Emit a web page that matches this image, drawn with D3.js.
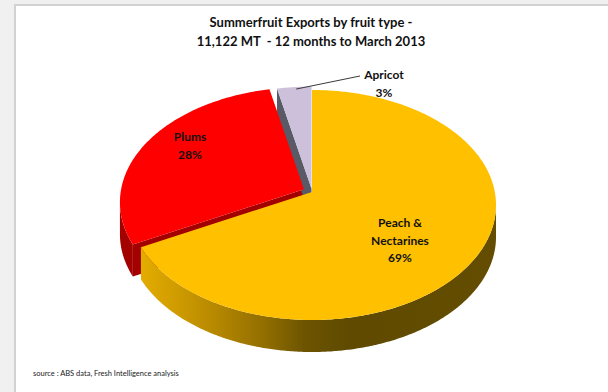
<!DOCTYPE html>
<html>
<head>
<meta charset="utf-8">
<script src="https://cdn.jsdelivr.net/npm/d3@7"></script>
<style>
  html, body { margin: 0; padding: 0; background: #f0f0f0; }
  svg { display: block; }
  text { font-family: Lato, "Open Sans", sans-serif; fill: #111; white-space: pre; }
</style>
</head>
<body>
<svg id="chart"></svg>
<script>
//Chart data
const categories = ["Peach & Nectarines", "Plums", "Apricot"];
const shares = [69, 28, 3];
const labelLines = [["Peach &", "Nectarines", "69%"], ["Plums", "28%"], ["Apricot", "3%"]];
const titleLines = ["Summerfruit Exports by fruit type -", "11,122 MT  - 12 months to March 2013"];
const sourceNote = "source : ABS data, Fresh Intelligence analysis";

//Size of the page
const width = 608;
const height = 392;

const svg = d3.select("#chart")
    .attr("width", width)
    .attr("height", height);

//White panel with a light border on top and left
svg.append("rect").attr("x", 0).attr("y", 0).attr("width", width).attr("height", height).attr("fill", "#f0f0f0");
svg.append("rect").attr("x", 14).attr("y", 4).attr("width", width).attr("height", height).attr("fill", "#d2d2d2");
svg.append("rect").attr("x", 16).attr("y", 6).attr("width", width).attr("height", height).attr("fill", "#ffffff");

//Title
svg.selectAll(".title")
    .data(titleLines)
    .enter()
    .append("text")
    .attr("class", "title")
    .attr("x", 311)
    .attr("y", (d, i) => 27 + i * 19)
    .attr("text-anchor", "middle")
    .attr("xml:space", "preserve")
    .style("font-size", "13px")
    .style("font-weight", "bold")
    .text(d => d);

//Source note
svg.append("text")
    .attr("x", 33)
    .attr("y", 376)
    .style("font-size", "7.5px")
    .style("fill", "#222")
    .text(sourceNote);

//Pie geometry (3D look)
const cx = 312, cy = 205, rx = 184, ry = 115;
const apexLift = 13;   //the centre point sits higher than the ellipse centre
const depth = 32;
const explode = [0, 0.05, 0.03];

const topColors = ["#ffc000", "#ff0000", "#ccc0da"];
const sideColors = ["url(#peachSide)", "#a30000", "#5a5a66"];

const pie = d3.pie().sort(null).value(d => d);
const arcs = pie(shares);

//offset for exploded slices
function offset(i) {
    const a = (arcs[i].startAngle + arcs[i].endAngle) / 2;
    return [rx * Math.sin(a) * explode[i], -ry * Math.cos(a) * explode[i]];
}

function rim(a, i, z) {
    const o = offset(i);
    return [cx + rx * Math.sin(a) + o[0], cy - ry * Math.cos(a) + o[1] + z];
}

function apex(i, z) {
    const o = offset(i);
    return [cx + o[0], cy - apexLift + o[1] + z];
}

function sample(a0, a1) {
    const n = Math.max(2, Math.ceil((a1 - a0) / 0.01));
    return d3.range(n + 1).map(k => a0 + (a1 - a0) * k / n);
}

const line = d3.line();

//Gradient for the peach side wall
const defs = svg.append("defs");
const grad = defs.append("linearGradient")
    .attr("id", "peachSide")
    .attr("gradientUnits", "userSpaceOnUse")
    .attr("x1", 128).attr("x2", 496).attr("y1", 0).attr("y2", 0);
[[0, "#eab200"], [0.12, "#d29e00"], [0.25, "#b38600"], [0.38, "#8f6c00"], [0.48, "#6c5400"], [0.6, "#5f4a00"], [1, "#644d00"]]
    .forEach(s => grad.append("stop").attr("offset", s[0]).attr("stop-color", s[1]));

const sides = svg.append("g");

//Radial faces that face the viewer
arcs.forEach((d, i) => {
    const normals = [[d.startAngle, d.startAngle - Math.PI / 2], [d.endAngle, d.endAngle + Math.PI / 2]];
    normals.forEach(n => {
        if (Math.cos(n[1]) < -0.05) {
            const pts = [apex(i, 0), rim(n[0], i, 0), rim(n[0], i, depth), apex(i, depth)];
            sides.append("path")
                .attr("d", line(pts) + "Z")
                .attr("fill", i === 0 ? "#8a6a00" : sideColors[i]);
        }
    });
});

//Outer walls on the front half, back ones first
arcs.map((d, i) => ({ d, i }))
    .sort((a, b) => b.i - a.i)
    .forEach(({ d, i }) => {
        const a0 = Math.max(d.startAngle, Math.PI / 2);
        const a1 = Math.min(d.endAngle, 3 * Math.PI / 2);
        if (a1 <= a0) return;
        const angles = sample(a0, a1);
        const pts = angles.map(a => rim(a, i, 0))
            .concat(angles.slice().reverse().map(a => rim(a, i, depth)));
        sides.append("path")
            .attr("d", line(pts) + "Z")
            .attr("fill", sideColors[i]);
    });

//Top faces
svg.append("g")
    .selectAll("path")
    .data(arcs)
    .enter()
    .append("path")
    .attr("d", (d, i) => line([apex(i, 0)].concat(sample(d.startAngle, d.endAngle).map(a => rim(a, i, 0)))) + "Z")
    .attr("fill", (d, i) => topColors[i]);

//Data labels
const labelPos = [[400, 227], [190, 141], [384, 79]];
labelLines.forEach((lines, i) => {
    svg.append("g")
        .selectAll("text")
        .data(lines)
        .enter()
        .append("text")
        .attr("x", labelPos[i][0])
        .attr("y", (d, k) => labelPos[i][1] + k * 17.5)
        .attr("text-anchor", "middle")
        .style("font-size", "12px")
        .style("font-weight", "bold")
        .text(d => d);
});

//Leader line for the apricot label
const aMid = (arcs[2].startAngle + arcs[2].endAngle) / 2;
const lp = rim(aMid, 2, 0);
svg.append("path")
    .attr("d", line([[lp[0] + 2, lp[1] + 2], [360, 76]]))
    .attr("stroke", "#3a3a3a")
    .attr("stroke-width", 1)
    .attr("fill", "none");
</script>
</body>
</html>
